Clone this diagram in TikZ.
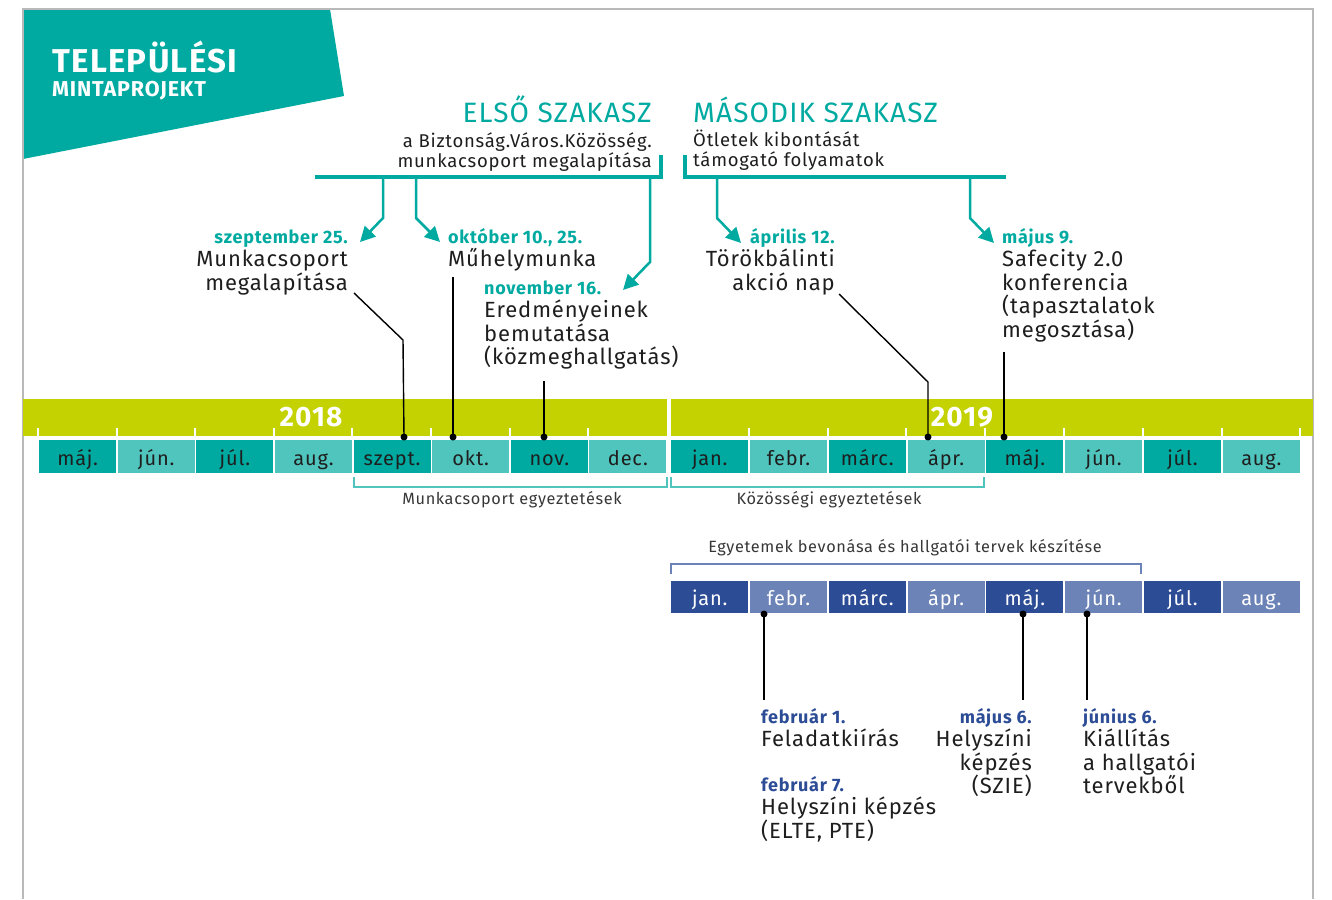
\documentclass[tikz,border=0pt]{standalone}
\usepackage{fontspec}
\setmainfont{Fira Sans}[LetterSpace=4]
\usetikzlibrary{arrows.meta}
\definecolor{tealD}{RGB}{0,170,160}
\definecolor{tealL}{RGB}{80,197,190}
\definecolor{limeC}{RGB}{195,210,0}
\definecolor{blueD}{RGB}{45,76,150}
\definecolor{blueL}{RGB}{108,131,183}
\definecolor{txt}{RGB}{30,30,30}
\definecolor{frameC}{RGB}{185,185,185}
\definecolor{grayT}{RGB}{55,55,55}
\newcommand\datT[1]{{\fontsize{18}{23.5}\selectfont\bfseries\color{tealD}#1}}
\newcommand\datB[1]{{\fontsize{18}{23.5}\selectfont\bfseries\color{blueD}#1}}
\begin{document}
\begin{tikzpicture}[x=1pt,y=-1pt,
  mbox/.style={anchor=north west, minimum width=77pt, minimum height=33pt, inner sep=0pt, text height=20pt, text depth=3pt, font=\fontsize{20}{20}\selectfont},
  tbox/.style={mbox, fill=tealD, text=txt},
  tboxl/.style={mbox, fill=tealL, text=txt},
  bbox/.style={mbox, fill=blueD, text=white, minimum height=32pt},
  bboxl/.style={mbox, fill=blueL, text=white, minimum height=32pt},
  ev/.style={inner sep=0pt, font=\fontsize{22}{23.5}\selectfont, text=txt},
  evl/.style={ev, anchor=base west, align=left},
  evr/.style={ev, anchor=base east, align=right},
  dot/.style={circle, fill=black, inner sep=0pt, minimum size=7pt},
  leader/.style={draw=black, line width=1.4pt},
  arr/.style={draw=tealD, line width=2.5pt, -{Triangle[length=15pt,width=15pt]}},
  phase/.style={draw=tealD, line width=3.5pt},
  tick/.style={draw=white, line width=2pt},
  gtxt/.style={inner sep=0pt, anchor=base, font=\fontsize{16.3}{18}\selectfont, text=grayT},
]
\useasboundingbox (0,0) rectangle (1332,899);
% title banner
\fill[tealD] (23,9) -- (330,9) -- (344,96) -- (23,159) -- cycle;
\node[inner sep=0pt, anchor=base west, text=white, font=\fontsize{33}{33}\selectfont\bfseries] (t1) at (52,72) {TELEPÜLÉSI};
\node[inner sep=0pt, anchor=base west, text=white, font=\fontsize{21.5}{21.5}\selectfont\bfseries] (t2) at (52,96) {MINTAPROJEKT};
% frame
\draw[frameC, line width=2pt] (23,899) -- (23,9) -- (1313,9) -- (1313,899);

% phases
\node[inner sep=0pt, anchor=base east, text=tealD, font=\fontsize{28}{28}\selectfont] (ph1) at (652,122) {ELSŐ SZAKASZ};
\node[inner sep=0pt, anchor=base west, text=tealD, font=\fontsize{28}{28}\selectfont] (ph2) at (693,122) {MÁSODIK SZAKASZ};
\node[inner sep=0pt, anchor=base east, align=right, text=txt, font=\fontsize{18.5}{20}\selectfont] (ph1s) at (652,167) {a Biztonság.Város.Közösség.\\munkacsoport megalapítása};
\node[inner sep=0pt, anchor=base west, align=left, text=txt, font=\fontsize{18.5}{19.5}\selectfont] (ph2s) at (693,166) {Ötletek kibontását\\támogató folyamatok};
\coordinate (p1a) at (315,177);
\coordinate (p1b) at (661,177);
\coordinate (p1c) at (661,155);
\coordinate (p2a) at (685,155);
\coordinate (p2b) at (685,177);
\coordinate (p2c) at (1006,177);
\draw[phase] (p1a) -- (p1b) -- (p1c);
\draw[phase] (p2a) -- (p2b) -- (p2c);

% upper events (anchor = baseline of last line)
\node[evr] (ev1) at (348,290) {\datT{szeptember 25.}\\Munkacsoport\\megalapítása};
\node[evl] (ev2) at (448,266.5) {\datT{október 10., 25.}\\Műhelymunka};
\node[evl] (ev3) at (484,364.5) {\datT{november 16.}\\Eredményeinek\\bemutatása\\(közmeghallgatás)};
\node[evr] (ev4) at (835,290) {\datT{április 12.}\\Törökbálinti\\akció nap};
\node[evl] (ev5) at (1002,337) {\datT{május 9.}\\Safecity 2.0\\konferencia\\(tapasztalatok\\megosztása)};

% arrows
\draw[arr] (383,177) -- (383,218) -- (360,242);
\draw[arr] (416,177) -- (416,218) -- (440,242);
\draw[arr] (650,177) -- (650,262) -- (623,290);
\draw[arr] (717,177) -- (717,218) -- (741,243);
\draw[arr] (970,177) -- (970,218) -- (994,243);

% year bar
\fill[limeC] (23,399) rectangle (667,436);
\fill[limeC] (671,399) rectangle (1313,436);
\node[inner sep=0pt, anchor=base, text=white, font=\fontsize{28}{28}\selectfont\bfseries] (y18) at (311,426) {2018};
\node[inner sep=0pt, anchor=base, text=white, font=\fontsize{28}{28}\selectfont\bfseries] (y19) at (962,426) {2019};
\foreach \i in {0,...,7} \draw[tick] ({38+78.6*\i},428) -- ({38+78.6*\i},437);
\foreach \i in {1,...,8} \draw[tick] ({670+78.8*\i},428) -- ({670+78.8*\i},437);

% month row 1
\foreach \m/\s [count=\i from 0] in {máj./tbox,jún./tboxl,júl./tbox,aug./tboxl,szept./tbox,okt./tboxl,nov./tbox,dec./tboxl}
  \node[\s] (a\i) at ({39+78.6*\i},440) {\m};
\foreach \m/\s [count=\i from 0] in {jan./tbox,febr./tboxl,márc./tbox,ápr./tboxl,máj./tbox,jún./tboxl,júl./tbox,aug./tboxl}
  \node[\s] (b\i) at ({671+78.8*\i},440) {\m};

% leaders upper
\node[dot] (d1) at (404,437) {};
\node[dot] (d2) at (453,437) {};
\node[dot] (d3) at (544,437) {};
\node[dot] (d4) at (928,437) {};
\node[dot] (d5) at (1004,437) {};
\coordinate (l1) at (354,293);
\coordinate (l2) at (453,277);
\coordinate (l3) at (544,381);
\coordinate (l4) at (839,294);
\coordinate (l5) at (1004,352);
\draw[leader] (l1) -- (403,340) -- (d1.center);
\draw[leader] (l2) -- (d2.center);
\draw[leader] (l3) -- (d3.center);
\draw[leader] (l4) -- (928,382) -- (d4.center);
\draw[leader] (l5) -- (d5.center);

% brackets row 1
\draw[tealL, line width=1.3pt] (354,477) -- (354,487) -- (667,487) -- (667,477);
\draw[tealL, line width=1.3pt] (671,477) -- (671,487) -- (984,487) -- (984,477);
\node[gtxt] (g1) at (512,504) {Munkacsoport egyeztetések};
\node[gtxt] (g2) at (829,504) {Közösségi egyeztetések};

% blue row
\draw[blueL, line width=1.3pt] (671,574) -- (671,564) -- (1141,564) -- (1141,574);
\node[gtxt] (g3) at (905,552) {Egyetemek bevonása és hallgatói tervek készítése};
\foreach \m/\s [count=\i from 0] in {jan./bbox,febr./bboxl,márc./bbox,ápr./bboxl,máj./bbox,jún./bboxl,júl./bbox,aug./bboxl}
  \node[\s] (c\i) at ({671+78.8*\i},581) {\m};

% lower leaders
\node[dot] (e1) at (764,614) {};
\node[dot] (e2) at (1023,614) {};
\node[dot] (e3) at (1087,614) {};
\coordinate (m1) at (764,700);
\coordinate (m2) at (1023,700);
\coordinate (m3) at (1087,700);
\draw[leader] (e1.center) -- (m1);
\draw[leader] (e2.center) -- (m2);
\draw[leader] (e3.center) -- (m3);

% lower events (anchor = baseline of last line)
\node[evl] (f1) at (761,746.5) {\datB{február 1.}\\Feladatkiírás};
\node[evl] (f2) at (761,838) {\datB{február 7.}\\Helyszíni képzés\\(ELTE, PTE)};
\node[evr] (f3) at (1032,793.5) {\datB{május 6.}\\Helyszíni\\képzés\\(SZIE)};
\node[evl] (f4) at (1083,793.5) {\datB{június 6.}\\Kiállítás\\a hallgatói\\tervekből};
\end{tikzpicture}
\end{document}
